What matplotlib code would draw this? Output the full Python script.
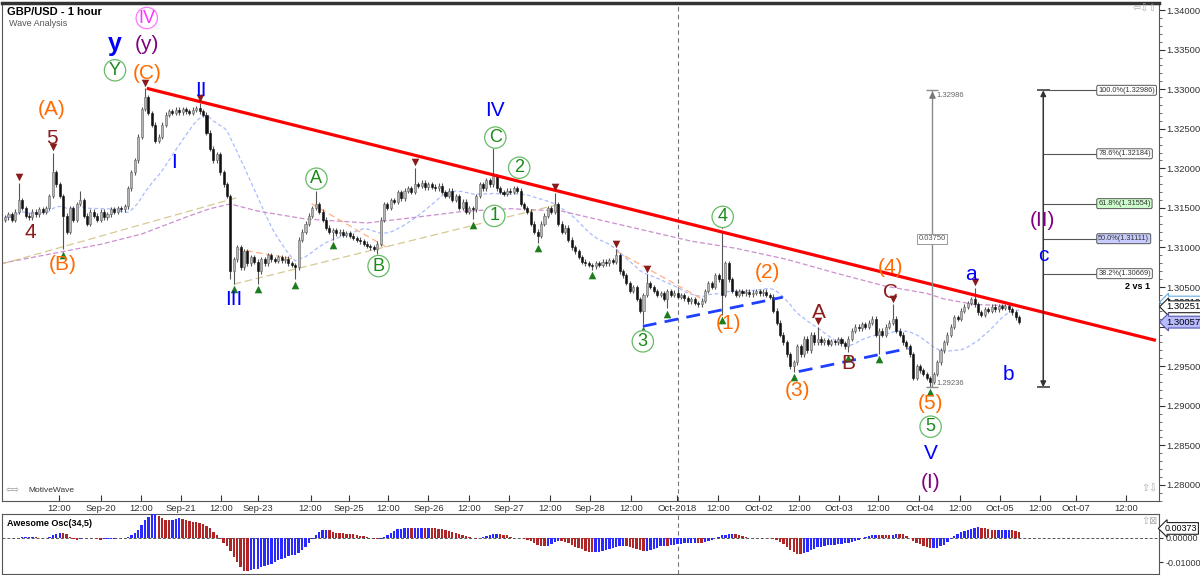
import numpy as np
import pandas as pd
import matplotlib
matplotlib.use("Agg")
import matplotlib.pyplot as plt
from matplotlib.transforms import offset_copy

plt.rcParams['font.family'] = ['Liberation Sans', 'DejaVu Sans']

# GBP/USD candles (2-hour steps), closes in 1/10000 -> 13140 = 1.3140
closes = [
    13138, 13142, 13135, 13145, 13160, 13150, 13140, 13138, 13145, 13142,
    13148, 13145, 13150, 13165, 13195, 13180, 13165, 13140, 13120, 13150,
    13135, 13155, 13160, 13140, 13130, 13145, 13140, 13135, 13145, 13138,
    13142, 13148, 13145, 13150, 13148, 13152, 13175, 13195, 13210, 13240,
    13275, 13290, 13270, 13255, 13235, 13240, 13255, 13268, 13272, 13270,
    13274, 13271, 13275, 13272, 13270, 13274, 13276, 13272, 13268, 13245,
    13225, 13210, 13218, 13195, 13180, 13165, 13070, 13085, 13100, 13075,
    13095, 13080, 13088, 13082, 13070, 13085, 13080, 13090, 13085, 13083,
    13088, 13084, 13086, 13080, 13078, 13075, 13110, 13120, 13130, 13140,
    13150, 13155, 13145, 13135, 13125, 13120, 13122, 13118, 13120, 13116,
    13118, 13115, 13112, 13110, 13108, 13105, 13102, 13100, 13098, 13105,
    13135, 13155, 13150, 13160, 13158, 13170, 13162, 13172, 13175, 13170,
    13180, 13178, 13182, 13176, 13180, 13177, 13175, 13178, 13170, 13165,
    13172, 13160, 13165, 13150, 13158, 13145, 13150, 13148, 13165, 13180,
    13175, 13185, 13180, 13190, 13175, 13170, 13168, 13172, 13170, 13175,
    13172, 13155, 13150, 13145, 13130, 13120, 13115, 13130, 13140, 13150,
    13145, 13155, 13130, 13120, 13125, 13110, 13100, 13095, 13088, 13082,
    13080, 13078, 13076, 13080, 13078, 13082, 13080, 13084, 13082, 13090,
    13070, 13065, 13055, 13045, 13050, 13035, 13020, 13040, 13055, 13050,
    13045, 13040, 13042, 13035, 13045, 13040, 13043, 13038, 13040, 13036,
    13032, 13035, 13030, 13028, 13033, 13045, 13055, 13050, 13065, 13060,
    13040, 13080, 13060, 13045, 13040, 13045, 13042, 13044, 13041, 13043,
    13045, 13042, 13044, 13040, 13038, 13020, 13005, 12990, 12980, 12965,
    12950, 12955, 12975, 12965, 12985, 12970, 12990, 12980, 12985, 12980,
    12983, 12978, 12982, 12980, 12984, 12979, 12975, 12985, 12995, 13000,
    12998, 13003, 13000, 13005, 13010, 12990, 12995, 12990, 13000, 13005,
    13010, 12995, 12990, 12980, 12975, 12965, 12935, 12950, 12945, 12940,
    12935, 12930, 12940, 12955, 12970, 12980, 12990, 13000, 13012, 13010,
    13020, 13025, 13030, 13035, 13028, 13018, 13015, 13022, 13020, 13025,
    13022, 13026, 13024, 13026, 13022, 13018, 13012, 13006,
]
first_open = 13135

# wick extremes read at the swing points (1/10000)
high_wicks = {4: 13182, 14: 13220, 22: 13172, 41: 13301, 57: 13282, 91: 13172,
              120: 13201, 143: 13226, 161: 13169, 179: 13098, 188: 13066,
              210: 13121, 238: 13000, 260: 13028, 284: 13049}
low_wicks = {17: 13098, 66: 13060, 67: 13054, 74: 13054, 85: 13060, 96: 13110,
             109: 13092, 137: 13136, 156: 13106, 172: 13072, 187: 13003,
             194: 13023, 210: 13015, 231: 12943, 247: 12968, 256: 12966,
             271: 12924}
top_marks = [4, 14, 41, 57, 91, 120, 143, 161, 179, 188, 210, 238, 260, 284]
bottom_marks = [17, 67, 74, 85, 96, 109, 137, 156, 172, 187, 194, 210, 231,
                247, 256, 271]

# slow moving average (purple dashed)
slow_ma_bars = [-1, 28, 40, 54, 60, 66, 74, 88, 106, 118, 135, 148, 163, 178,
                192, 201, 214, 229, 243, 258, 270, 275, 284, 297]
slow_ma_vals = [1.3080, 1.3104, 1.3117, 1.3140, 1.3149, 1.3155, 1.3146, 1.3136,
                1.3131, 1.3137, 1.3146, 1.3149, 1.3146, 1.3131, 1.3117, 1.3108,
                1.3099, 1.3085, 1.3068, 1.3051, 1.3042, 1.3035, 1.3028, 1.3026]

# drawn trend lines: (bar0, price0, bar1, price1)
red_trend = (41.5, 1.33011, 337.1, 1.29826)
tan_lines = [(-1, 1.30791, 67.8, 1.31628), (67, 1.30537, 162.9, 1.31552)]
orange_lines = [(67.8, 1.30981, 84.8, 1.30854), (89.8, 1.31552, 112.6, 1.30981),
                (179, 1.30955, 205.3, 1.30321)]
blue_lines = [(186.8, 1.30004, 227.8, 1.30372), (232.5, 1.29433, 264.6, 1.29725)]

# wave labels: text, bar, price, colour, circled
orange = '#ff6a00'
maroon = '#8b1a1a'
green = '#1a8a1a'
blue = '#0000ff'
purple = '#800080'
pink = '#ff33ff'
wave_labels = [
    ("IV", 41.5, 1.33899, pink, True),
    ("(y)", 41.5, 1.33569, purple, False),
    ("Y", 32.2, 1.33239, green, True),
    ("(C)", 41.5, 1.33201, orange, False),
    ("II", 57.3, 1.32985, blue, False),
    ("I", 49.4, 1.32080, blue, False),
    ("(A)", 13.7, 1.32744, orange, False),
    ("5", 13.7, 1.32376, maroon, False),
    ("4", 7.3, 1.31184, maroon, False),
    ("(B)", 17.0, 1.30791, orange, False),
    ("III", 67.0, 1.30347, blue, False),
    ("A", 91.2, 1.31869, green, True),
    ("B", 109.4, 1.30765, green, True),
    ("IV", 143.6, 1.32731, blue, False),
    ("C", 143.6, 1.32389, green, True),
    ("2", 150.6, 1.32008, green, True),
    ("1", 143.3, 1.31399, green, True),
    ("4", 210.2, 1.31387, green, True),
    ("3", 186.8, 1.29814, green, True),
    ("(2)", 223.4, 1.30689, orange, False),
    ("(1)", 212.0, 1.30042, orange, False),
    ("A", 238.3, 1.30182, maroon, False),
    ("B", 247.1, 1.29535, maroon, False),
    ("C", 259.4, 1.30435, maroon, False),
    ("(4)", 259.4, 1.30752, orange, False),
    ("(3)", 232.2, 1.29192, orange, False),
    ("(5)", 271.1, 1.29027, orange, False),
    ("5", 271.1, 1.28736, green, True),
    ("V", 271.1, 1.28393, blue, False),
    ("(I)", 271.1, 1.28025, purple, False),
    ("a", 283.0, 1.30664, blue, False),
    ("b", 293.9, 1.29395, blue, False),
    ("c", 304.1, 1.30905, blue, False),
    ("(II)", 303.8, 1.31336, purple, False),
]

# measuring tools
swing_low = 1.29236
swing_high = 1.32986
measure_bar = 271.6
fib_bar = 304.1
fib_ratios = ["100.0%", "78.6%", "61.8%", "50.0%", "38.2%"]
fib_levels = [1.32986, 1.32184, 1.31554, 1.31111, 1.30669]
fib_fill = ['white', 'white', '#ccffcc', '#c8ccff', 'white']

x_ticks = [15.8, 28.1, 39.8, 51.5, 63.2, 74.0, 89.5, 100.6, 112.3, 124.0, 136.0,
           147.7, 159.6, 171.3, 183.3, 196.8, 208.8, 220.8, 232.5, 244.2, 255.8,
           267.8, 279.8, 291.5, 303.2, 313.7, 328.4]
x_labels = ["12:00", "Sep-20", "12:00", "Sep-21", "12:00", "Sep-23", "12:00",
            "Sep-25", "12:00", "Sep-26", "12:00", "Sep-27", "12:00", "Sep-28",
            "12:00", "Oct-2018", "12:00", "Oct-02", "12:00", "Oct-03", "12:00",
            "Oct-04", "12:00", "Oct-05", "12:00", "Oct-07", "12:00"]
month_bar = 197.1
ao_last = 0.00373
price_flags = [1.30310, 1.30251, 1.30057]

# ---- prepare candles
c = np.array(closes) / 10000
o = np.concatenate([[first_open / 10000], c[:-1]])
bars = np.arange(len(c))
hi = np.maximum(o, c) + 0.0003
lo = np.minimum(o, c) - 0.0003
for k, v in high_wicks.items():
    hi[k] = v / 10000
for k, v in low_wicks.items():
    lo[k] = v / 10000

fig = plt.figure(figsize=(12, 5.75), dpi=100)
ax = fig.add_axes([2 / 1200, 1 - 501 / 575, 1157 / 1200, 498 / 575])
ax2 = fig.add_axes([2 / 1200, 1 / 575, 1157 / 1200, 60 / 575])

xmin, xmax = -0.9, 338.0
ax.set_xlim(xmin, xmax)
ax.set_ylim(1.27797, 1.34089)

# moving averages
fast_ma = pd.Series(c).rolling(20, min_periods=1).mean()
ax.plot(bars, fast_ma, color='#a9bcff', lw=0.9, dashes=(3, 2), zorder=2)
ax.plot(slow_ma_bars, slow_ma_vals, color='#cc8fd0', lw=0.9, dashes=(4, 2), zorder=2)

for x0, y0, x1, y1 in tan_lines:
    ax.plot([x0, x1], [y0, y1], color='#d6c992', lw=0.9, dashes=(6, 3), zorder=2)
for x0, y0, x1, y1 in orange_lines:
    ax.plot([x0, x1], [y0, y1], color='#ffb080', lw=0.9, dashes=(5, 3), zorder=2)

# candles
up = c >= o
ax.vlines(bars, lo, hi, color='#555555', lw=0.8, zorder=3)
h_up = np.maximum(c - o, 0.00005)
h_dn = np.maximum(o - c, 0.00005)
ax.bar(bars[up], h_up[up], bottom=o[up], width=0.6, color='#b5b5b5',
       edgecolor='#666666', lw=0.4, zorder=4)
ax.bar(bars[~up], h_dn[~up], bottom=c[~up], width=0.6, color='#111111',
       edgecolor='#111111', lw=0.4, zorder=4)

# swing markers
up_off = offset_copy(ax.transData, fig=fig, y=4, units='points')
dn_off = offset_copy(ax.transData, fig=fig, y=-4, units='points')
ax.scatter(top_marks, hi[top_marks], marker='v', s=30, color='#8b1a1a',
           transform=up_off, zorder=6, linewidths=0)
ax.scatter(bottom_marks, lo[bottom_marks], marker='^', s=30, color='#1e7b1e',
           transform=dn_off, zorder=6, linewidths=0)

# trend lines
ax.plot(red_trend[::2], red_trend[1::2], color='#ff0000', lw=2.3, zorder=5,
        solid_capstyle='butt')
for x0, y0, x1, y1 in blue_lines:
    ax.plot([x0, x1], [y0, y1], color='#1f3fff', lw=2, dashes=(5, 3), zorder=5)

ax.axvline(month_bar, color='#777777', lw=0.8, dashes=(4, 3), zorder=1)
ax2.axvline(month_bar, color='#777777', lw=0.8, dashes=(4, 3), zorder=1)

# wave labels
for txt, bx, py, col, circ in wave_labels:
    if circ:
        ax.text(bx, py, txt, color=col, fontsize=13, ha='center', va='center',
                zorder=7, bbox=dict(boxstyle='circle,pad=0.12', fc='white',
                                    ec='#66bb66' if col == green else '#ff77ff', lw=0.9))
    else:
        ax.text(bx, py, txt, color=col, fontsize=15, ha='center', va='center', zorder=7)
ax.text(32.2, 1.33569, "y", color=blue, fontsize=18, fontweight='bold',
        ha='center', va='center', zorder=7)

# measuring line
ax.vlines(measure_bar, swing_low, swing_high, color='#8c8c8c', lw=1, zorder=5)
ax.hlines([swing_low, swing_high], measure_bar - 1.8, measure_bar + 1.8,
          color='#8c8c8c', lw=1, zorder=5)
ax.scatter([measure_bar], [swing_high - 0.0006], marker='^', s=14, color='#777777', zorder=5)
ax.text(measure_bar + 1.3, swing_high - 0.0007, f"{swing_high:.5f}", fontsize=5.5,
        color='#666666', va='center', ha='left')
ax.text(measure_bar + 1.3, swing_low + 0.0004, f"{swing_low:.5f}", fontsize=5.5,
        color='#666666', va='center', ha='left')
ax.text(measure_bar, 1.31108, f"{swing_high - swing_low:.5f}", fontsize=5.5,
        color='#555555', ha='center', va='center', zorder=6,
        bbox=dict(boxstyle='square,pad=0.2', fc='white', ec='#999999', lw=0.7))

# fib tool
ax.annotate('', xy=(fib_bar, swing_high), xytext=(fib_bar, swing_low),
            arrowprops=dict(arrowstyle='<|-|>', color='#333333', lw=1.1,
                            mutation_scale=8, shrinkA=0, shrinkB=0), zorder=5)
ax.hlines([swing_low, swing_high], fib_bar - 1.9, fib_bar + 1.9, color='#333333', lw=1.1)
for r, lvl, fc in zip(fib_ratios, fib_levels, fib_fill):
    ax.hlines(lvl, fib_bar, 319.9, color='#555555', lw=0.8, zorder=4)
    ax.text(320.2, lvl, f"{r}({lvl:.5f})", fontsize=5.3, color='#333333',
            ha='left', va='center', zorder=6,
            bbox=dict(boxstyle='round,pad=0.2', fc=fc, ec='#555555', lw=0.7))
ax.text(331.6, 1.30511, "2 vs 1", fontsize=6.5, fontweight='bold', ha='center',
        va='center')

# titles and small icons
ax.text(0.0045, 0.982, "GBP/USD - 1 hour", transform=ax.transAxes, fontsize=8,
        fontweight='bold', va='center', ha='left')
ax.text(0.006, 0.958, "Wave Analysis", transform=ax.transAxes, fontsize=6.5,
        color='#555555', va='center', ha='left')
ax.text(0.9985, 0.99, "\u21e6\u21e9\u21e7", transform=ax.transAxes, fontsize=7,
        color='#aaaaaa', va='center', ha='right', family=['DejaVu Sans'])
ax.text(0.9985, 0.025, "\u21e7\u21e9", transform=ax.transAxes, fontsize=7,
        color='#aaaaaa', va='center', ha='right', family=['DejaVu Sans'])
ax.text(0.003, 0.022, "\u21e6\u21e8", transform=ax.transAxes, fontsize=6,
        color='#888888', va='center', ha='left', family=['DejaVu Sans'])
ax.text(0.023, 0.022, "MotiveWave", transform=ax.transAxes, fontsize=6,
        color='#333333', va='center', ha='left')

# axes styling; the 1.30000 label sits under the price flags, as in the chart
y_major = np.arange(1.28, 1.34001, 0.005)
ax.yaxis.tick_right()
ax.set_yticks(y_major)
ax.set_yticklabels(["" if abs(v - 1.30) < 1e-6 else f"{v:.5f}" for v in y_major])
ax.set_yticks(np.arange(1.278, 1.3409, 0.001), minor=True)
ax.tick_params(axis='y', which='major', direction='out', length=4, labelsize=6.8,
               pad=1.5, colors='#333333')
ax.tick_params(axis='y', which='minor', direction='out', length=2, colors='#555555')
ax.set_xticks(x_ticks)
ax.set_xticklabels(x_labels)
ax.tick_params(axis='x', direction='in', length=4, labelsize=6.8, pad=2,
               colors='#333333')
for s in ax.spines.values():
    s.set_color('#555555')
    s.set_linewidth(0.8)
ax.spines['top'].set_linewidth(2.5)
ax.spines['top'].set_color('#333333')

# price flags on the right
for val, ec, fc in zip(price_flags, ['#66aadd', '#222222', '#5555aa'],
                       ['white', 'white', '#b8bcff']):
    ax.annotate(f"{val:.5f}", xy=(1.0, val), xycoords=('axes fraction', 'data'),
                xytext=(5, 0), textcoords='offset points', fontsize=6.8,
                va='center', ha='left', annotation_clip=False, zorder=8,
                bbox=dict(boxstyle='larrow,pad=0.15', fc=fc, ec=ec, lw=0.8))

# Awesome oscillator
med = pd.Series((hi + lo) / 2)
ao = (med.rolling(5, min_periods=1).mean() - med.rolling(34, min_periods=1).mean()).values
ao_up = np.concatenate([[True], ao[1:] >= ao[:-1]])
ax2.bar(bars, ao, width=0.7, color=np.where(ao_up, '#2a2aff', '#b02525'), lw=0, zorder=3)
ax2.axhline(0, color='#555555', lw=0.7, dashes=(3, 2), zorder=2)
ax2.set_xlim(xmin, xmax)
ax2.set_ylim(-0.0148, 0.0096)
ax2.yaxis.tick_right()
ax2.set_yticks([0.0, -0.01])
ax2.set_yticklabels(["0.00000", "-0.01000"])
ax2.tick_params(axis='y', direction='out', length=3, labelsize=6.5, pad=1.5,
                colors='#333333')
ax2.set_xticks([])
for s in ax2.spines.values():
    s.set_color('#555555')
    s.set_linewidth(0.8)
ax2.text(0.004, 0.85, "Awesome Osc(34,5)", transform=ax2.transAxes, fontsize=6.5,
         fontweight='bold', va='center', ha='left')
ax2.text(0.9985, 0.88, "\u21e7\u22a0", transform=ax2.transAxes, fontsize=7,
         color='#aaaaaa', va='center', ha='right', family=['DejaVu Sans'])
ax2.annotate(f"{ao_last:.5f}", xy=(1.0, ao_last), xycoords=('axes fraction', 'data'),
             xytext=(4, 0), textcoords='offset points', fontsize=6.5, va='center',
             ha='left', annotation_clip=False,
             bbox=dict(boxstyle='larrow,pad=0.15', fc='white', ec='#222222', lw=0.8))

fig.savefig("out.png", dpi=100)
